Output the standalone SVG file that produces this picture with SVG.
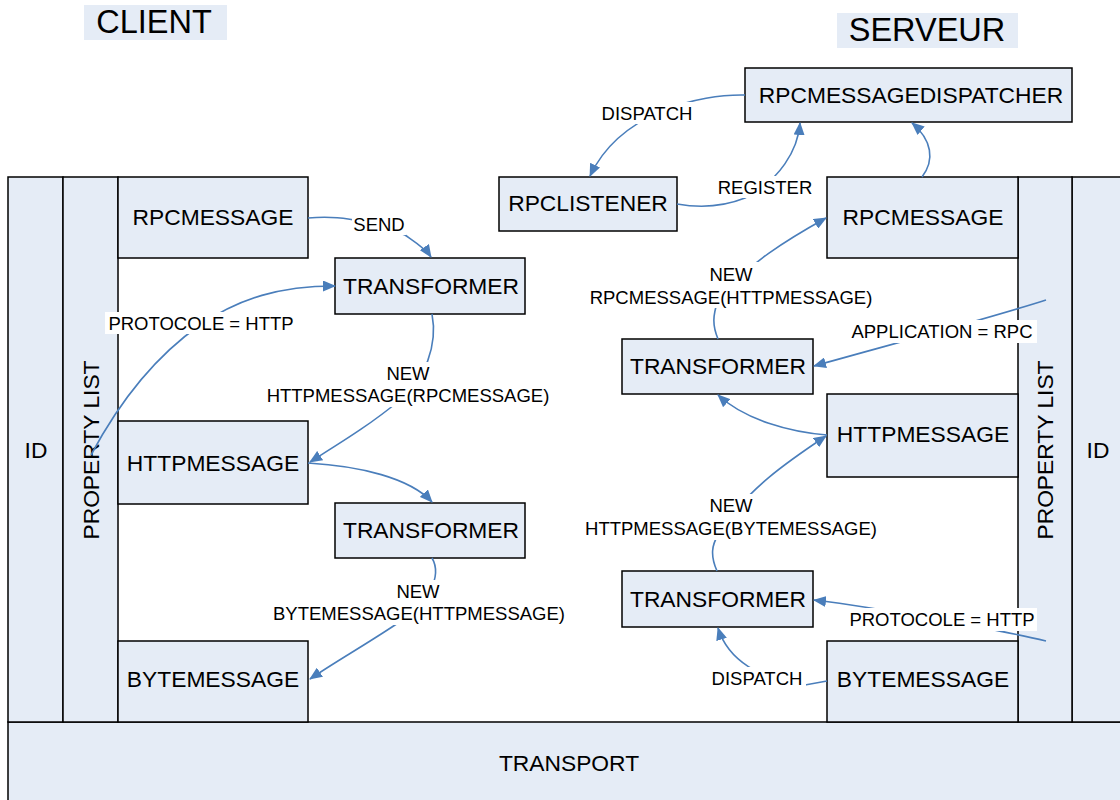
<svg xmlns="http://www.w3.org/2000/svg" width="1120" height="800" viewBox="0 0 1120 800">
  <style>
    .box { fill: #E5ECF6; stroke: #000; stroke-width: 1.5; }
    .t { font-family: "Liberation Sans", Arial, sans-serif; font-size: 22.8px; fill: #000; text-anchor: middle; dominant-baseline: central; }
    .lbl { font-family: "Liberation Sans", Arial, sans-serif; font-size: 18.5px; fill: #000; text-anchor: middle; dominant-baseline: central; }
    .title { font-family: "Liberation Sans", Arial, sans-serif; font-size: 32.5px; fill: #000; text-anchor: middle; dominant-baseline: central; }
    .lblbg { fill: #fff; }
    .conn { fill: none; stroke: #4A7EBB; stroke-width: 1.6; }
  </style>
  <defs>
    <marker id="arrow" viewBox="0 0 13 11" refX="12" refY="5.5" markerWidth="13" markerHeight="11" markerUnits="userSpaceOnUse" orient="auto">
      <path d="M0,0 L13,5.5 L0,11 Z" fill="#4A7EBB"/>
    </marker>
  </defs>

  <rect width="1120" height="800" fill="#fff"/>

  <!-- side titles -->
  <g id="client-title">
    <rect x="84" y="5" width="143" height="35" fill="#E5ECF6"/>
    <text class="title" x="154" y="22">CLIENT</text>
  </g>
  <g id="server-title">
    <rect x="837" y="13" width="181" height="35" fill="#E5ECF6"/>
    <text class="title" x="927" y="30">SERVEUR</text>
  </g>

  <!-- transport layer -->
  <g id="transport">
    <rect class="box" x="8" y="722" width="1130" height="100"/>
    <text class="t" x="569" y="763">TRANSPORT</text>
  </g>

  <!-- client stack -->
  <g id="client-id">
    <rect class="box" x="8" y="177" width="55" height="545"/>
    <text class="t" x="36" y="450">ID</text>
  </g>
  <g id="client-properties">
    <rect class="box" x="63" y="177" width="55" height="545"/>
    <text class="t" transform="translate(91 450) rotate(-90)">PROPERTY LIST</text>
  </g>
  <g id="client-rpcmessage">
    <rect class="box" x="118" y="177" width="190" height="81"/>
    <text class="t" x="213" y="217">RPCMESSAGE</text>
  </g>
  <g id="client-transformer-1">
    <rect class="box" x="335" y="258" width="190" height="56"/>
    <text class="t" x="431" y="286">TRANSFORMER</text>
  </g>
  <g id="client-httpmessage">
    <rect class="box" x="118" y="421" width="190" height="83"/>
    <text class="t" x="213" y="463">HTTPMESSAGE</text>
  </g>
  <g id="client-transformer-2">
    <rect class="box" x="335" y="503" width="190" height="55"/>
    <text class="t" x="431" y="530">TRANSFORMER</text>
  </g>
  <g id="client-bytemessage">
    <rect class="box" x="118" y="641" width="190" height="81"/>
    <text class="t" x="213" y="679">BYTEMESSAGE</text>
  </g>

  <!-- server stack -->
  <g id="server-id">
    <rect class="box" x="1072" y="177" width="60" height="545"/>
    <text class="t" x="1098" y="450">ID</text>
  </g>
  <g id="server-properties">
    <rect class="box" x="1018" y="177" width="54" height="545"/>
    <text class="t" transform="translate(1045 450) rotate(-90)">PROPERTY LIST</text>
  </g>
  <g id="server-dispatcher">
    <rect class="box" x="745" y="68" width="327" height="54"/>
    <text class="t" x="911" y="95">RPCMESSAGEDISPATCHER</text>
  </g>
  <g id="server-listener">
    <rect class="box" x="499" y="177" width="178" height="54"/>
    <text class="t" x="588" y="203">RPCLISTENER</text>
  </g>
  <g id="server-rpcmessage">
    <rect class="box" x="827" y="177" width="191" height="81"/>
    <text class="t" x="923" y="217">RPCMESSAGE</text>
  </g>
  <g id="server-transformer-1">
    <rect class="box" x="622" y="339" width="191" height="55"/>
    <text class="t" x="718" y="366">TRANSFORMER</text>
  </g>
  <g id="server-httpmessage">
    <rect class="box" x="827" y="394" width="191" height="83"/>
    <text class="t" x="923" y="434">HTTPMESSAGE</text>
  </g>
  <g id="server-transformer-2">
    <rect class="box" x="622" y="571" width="191" height="56"/>
    <text class="t" x="718" y="599">TRANSFORMER</text>
  </g>
  <g id="server-bytemessage">
    <rect class="box" x="827" y="641" width="191" height="81"/>
    <text class="t" x="923" y="679">BYTEMESSAGE</text>
  </g>

  <!-- connectors -->
  <g id="connectors">
    <path class="conn" marker-end="url(#arrow)" d="M308 218 C330 216 345 218 365 222 L405 235 C415 242 425 248 431 257"/>
    <path class="conn" marker-end="url(#arrow)" d="M91 455 C115 410 150 360 200 325 C240 298 280 286 335 286"/>
    <path class="conn" marker-end="url(#arrow)" d="M432 314 C438 345 425 380 400 400 C370 425 340 443 310 462"/>
    <path class="conn" marker-end="url(#arrow)" d="M308 463 C360 466 410 478 432 502"/>
    <path class="conn" marker-end="url(#arrow)" d="M432 558 C442 575 430 605 395 625 C365 645 335 662 310 679"/>

    <path class="conn" marker-end="url(#arrow)" d="M745 95 C700 94 620 112 590 176"/>
    <path class="conn" marker-end="url(#arrow)" d="M677 204 C700 208 725 206 745 198 C780 180 798 150 800 123"/>
    <path class="conn" marker-end="url(#arrow)" d="M922 177 C935 160 932 140 912 123"/>
    <path class="conn" marker-end="url(#arrow)" d="M718 339 C712 325 713 315 718 300 C745 265 790 238 826 218"/>
    <path class="conn" marker-end="url(#arrow)" d="M1046 300 C990 318 900 342 814 366"/>
    <path class="conn" marker-end="url(#arrow)" d="M827 435 C790 432 745 420 718 395"/>
    <path class="conn" marker-end="url(#arrow)" d="M717 571 C710 555 712 545 718 535 C745 490 790 460 826 436"/>
    <path class="conn" marker-end="url(#arrow)" d="M1046 641 C1000 630 880 608 814 600"/>
    <path class="conn" marker-end="url(#arrow)" d="M827 681 L805 685 C760 680 728 660 718 628"/>
  </g>

  <!-- connector labels -->
  <g id="labels">
    <rect class="lblbg" x="352" y="214" width="54" height="21"/>
    <text class="lbl" x="379" y="224">SEND</text>

    <rect class="lblbg" x="105" y="312" width="192" height="22"/>
    <text class="lbl" x="201" y="323">PROTOCOLE = HTTP</text>

    <rect class="lblbg" x="262" y="362" width="292" height="45"/>
    <text class="lbl" x="408" y="373">NEW</text>
    <text class="lbl" x="408" y="395">HTTPMESSAGE(RPCMESSAGE)</text>

    <rect class="lblbg" x="268" y="580" width="302" height="45"/>
    <text class="lbl" x="418" y="591">NEW</text>
    <text class="lbl" x="419" y="613">BYTEMESSAGE(HTTPMESSAGE)</text>

    <rect class="lblbg" x="598" y="102" width="98" height="22"/>
    <text class="lbl" x="647" y="113">DISPATCH</text>

    <rect class="lblbg" x="715" y="176" width="100" height="22"/>
    <text class="lbl" x="765" y="187">REGISTER</text>

    <rect class="lblbg" x="585" y="262" width="293" height="46"/>
    <text class="lbl" x="731" y="274">NEW</text>
    <text class="lbl" x="731" y="297">RPCMESSAGE(HTTPMESSAGE)</text>

    <rect class="lblbg" x="846" y="320" width="191" height="23"/>
    <text class="lbl" x="942" y="331">APPLICATION = RPC</text>

    <rect class="lblbg" x="580" y="494" width="302" height="46"/>
    <text class="lbl" x="731" y="505">NEW</text>
    <text class="lbl" x="731" y="528">HTTPMESSAGE(BYTEMESSAGE)</text>

    <rect class="lblbg" x="846" y="608" width="191" height="23"/>
    <text class="lbl" x="942" y="619">PROTOCOLE = HTTP</text>

    <rect class="lblbg" x="707" y="667" width="99" height="22"/>
    <text class="lbl" x="757" y="678">DISPATCH</text>
  </g>
</svg>
